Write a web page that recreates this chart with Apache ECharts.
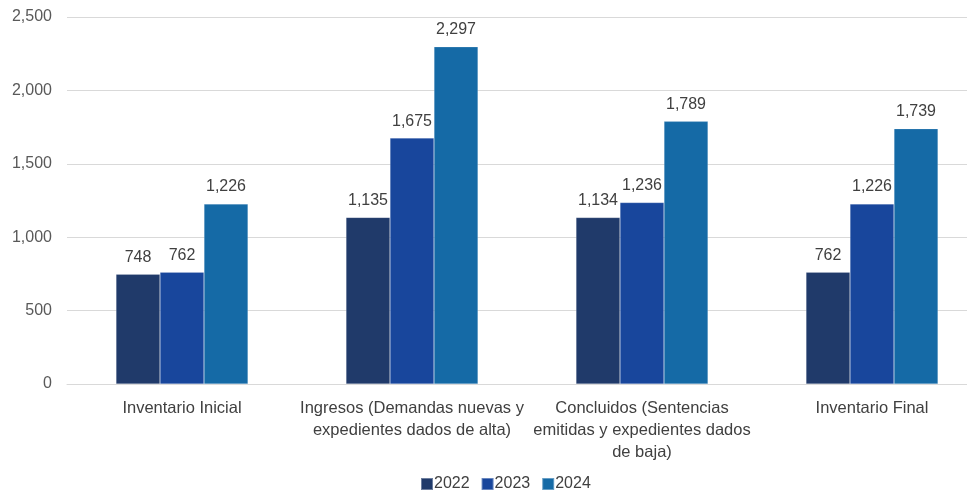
<!DOCTYPE html>
<html>
<head>
<meta charset="utf-8">
<script src="https://cdn.jsdelivr.net/npm/echarts@6/dist/echarts.min.js"></script>
<style>
html,body{margin:0;padding:0;background:#fff;overflow:hidden;width:967px;height:493px;}
#chart{width:987px;height:493px;}
</style>
</head>
<body>
<div id="chart"></div>
<script>
const categories = [
  "Inventario Inicial",
  "Ingresos (Demandas nuevas y\nexpedientes dados de alta)",
  "Concluidos (Sentencias\nemitidas y expedientes dados\nde baja)",
  "Inventario Final"
];
const seriesNames = ["2022", "2023", "2024"];
const values2022 = [748, 1135, 1134, 762];
const values2023 = [762, 1675, 1236, 1226];
const values2024 = [1226, 2297, 1789, 1739];
const yTicks = { min: 0, max: 2500, interval: 500 };
const colors = ["#203A6A", "#18469C", "#156AA6"];

const font = "Arial, 'Liberation Sans', sans-serif";
const chart = echarts.init(document.getElementById('chart'), null, {renderer: 'canvas'});
const allValues = [values2022, values2023, values2024];
chart.setOption({
  animation: false,
  color: colors,
  grid: { left: 67, right: 0, top: 17, bottom: 109, containLabel: false },
  legend: {
    data: seriesNames,
    left: 415,
    bottom: -4,
    itemWidth: 12,
    itemHeight: 12,
    itemGap: 11,
    icon: 'rect',
    textStyle: { fontFamily: font, fontSize: 16, color: '#404040', padding: [0, 0, 0, -4] }
  },
  xAxis: {
    type: 'category',
    data: categories,
    axisLine: { lineStyle: { color: '#D9D9D9', width: 1 } },
    axisTick: { show: false },
    axisLabel: {
      interval: 0,
      margin: 13,
      align: 'center',
      fontFamily: font, fontSize: 16.5, color: '#404040', lineHeight: 22
    }
  },
  yAxis: {
    type: 'value',
    min: yTicks.min, max: yTicks.max, interval: yTicks.interval,
    axisLine: { show: false },
    axisTick: { show: false },
    splitLine: { lineStyle: { color: '#D9D9D9', width: 1 } },
    axisLabel: {
      margin: 15,
      fontFamily: font, fontSize: 16, color: '#595959',
      formatter: v => v.toLocaleString('en-US')
    }
  },
  series: seriesNames.map((n, i) => ({
    name: n,
    type: 'bar',
    data: allValues[i],
    barWidth: 44,
    barGap: '0%',
    itemStyle: { color: colors[i], borderColor: 'rgba(255,255,255,0.35)', borderWidth: 0.5 },
    label: {
      show: true, position: 'top', distance: 9,
      fontFamily: font, fontSize: 16, color: '#404040',
      formatter: p => p.value.toLocaleString('en-US')
    }
  }))
});
</script>
</body>
</html>
